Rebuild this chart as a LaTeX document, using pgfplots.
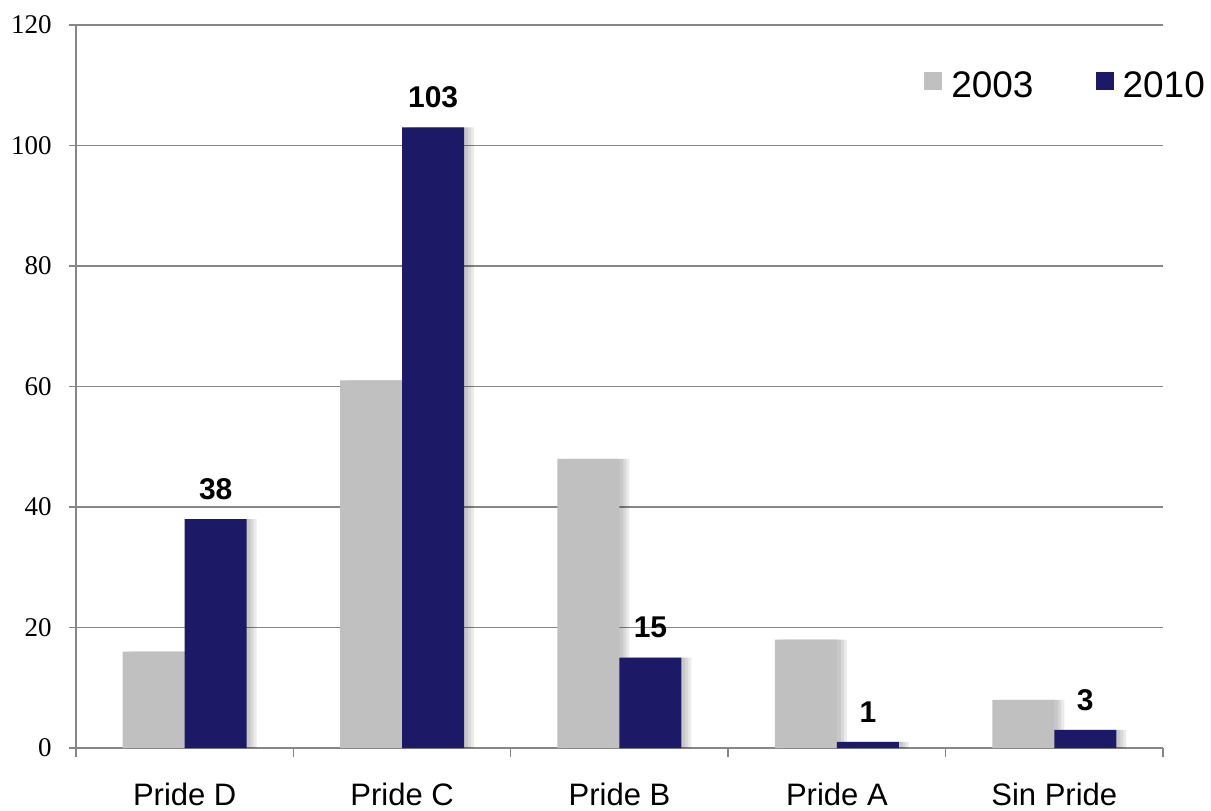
\documentclass[border=0pt]{standalone}
\usepackage{pgfplots}
\pgfplotsset{compat=1.18}
\usepackage{fontspec}
\setmainfont{Liberation Sans}
\newfontfamily\tnr{Liberation Serif}
\definecolor{bargray}{RGB}{192,192,192}
\definecolor{barnavy}{RGB}{28,26,102}
\definecolor{axgray}{RGB}{134,134,134}

\pgfplotstableread{
x y2003 y2010
0 16 38
1 61 103
2 48 15
3 18 1
4 8 3
}\datatable

\pgfplotsset{shadowbar/.style={ybar, bar width=31pt, fill=black, draw=none,
  fill opacity=0.08, forget plot}}

\begin{document}
\begin{tikzpicture}
\useasboundingbox (-38pt,-31pt) rectangle (567.5pt,374pt);
\begin{axis}[
  at={(0,0)}, anchor=south west,
  scale only axis, width=543.5pt, height=361.5pt,
  ybar, bar width=31pt,
  xmin=-0.5, xmax=4.5, ymin=0, ymax=120,
  xtick={0,...,4},
  xticklabels={Pride D, Pride C, Pride B, Pride A, Sin Pride},
  minor xtick={-0.5,0.5,...,4.5},
  ytick={0,20,...,120},
  axis x line*=bottom, axis y line*=left,
  axis line style={-, axgray, line width=0.7pt},
  ymajorgrids, grid style={axgray, line width=0.6pt},
  tick align=outside,
  major tick length=3.5pt, minor tick length=4.5pt,
  major x tick style={draw=none},
  tick style={axgray, line width=0.7pt},
  /pgf/number format/assume math mode=true,
  yticklabel style={font=\tnr\fontsize{13.5}{13.5}\selectfont, anchor=east, inner sep=0pt, xshift=-8.5pt},
  xticklabel style={font=\fontsize{15.5}{15.5}\selectfont, anchor=north, inner sep=0pt, yshift=-14pt},
  legend columns=2,
  legend style={at={(axis description cs:0.780,0.916)}, anchor=west,
    draw=none, fill=none, inner sep=0pt,
    font=\fontsize{18.5}{18.5}\selectfont,
    nodes={inner sep=0pt},
    /tikz/every odd column/.append style={column sep=4.5pt},
    /tikz/every even column/.append style={column sep=31pt}},
]
% soft shadows, drawn first
\addplot[shadowbar, bar shift=-13.5pt] table[x=x, y=y2003] {\datatable};
\addplot[shadowbar, bar shift=-12pt] table[x=x, y=y2003] {\datatable};
\addplot[shadowbar, bar shift=-10.5pt] table[x=x, y=y2003] {\datatable};
\addplot[shadowbar, bar shift=17.5pt] table[x=x, y=y2010] {\datatable};
\addplot[shadowbar, bar shift=19pt] table[x=x, y=y2010] {\datatable};
\addplot[shadowbar, bar shift=20.5pt] table[x=x, y=y2010] {\datatable};

\addplot[fill=bargray, draw=none, bar shift=-15.5pt,
  legend image code/.code={\fill[bargray] (0pt,-2pt) rectangle (9pt,7pt);}]
  table[x=x, y=y2003] {\datatable};
\addlegendentry{2003}
\addplot[fill=barnavy, draw=none, bar shift=15.5pt,
  legend image code/.code={\fill[barnavy] (0pt,-2pt) rectangle (9pt,7pt);},
  nodes near coords,
  every node near coord/.append style={font=\bfseries\fontsize{15}{15}\selectfont,
    anchor=south, inner sep=0pt, yshift=9.5pt, black}]
  table[x=x, y=y2010] {\datatable};
\addlegendentry{2010}
\end{axis}
\end{tikzpicture}
\end{document}
